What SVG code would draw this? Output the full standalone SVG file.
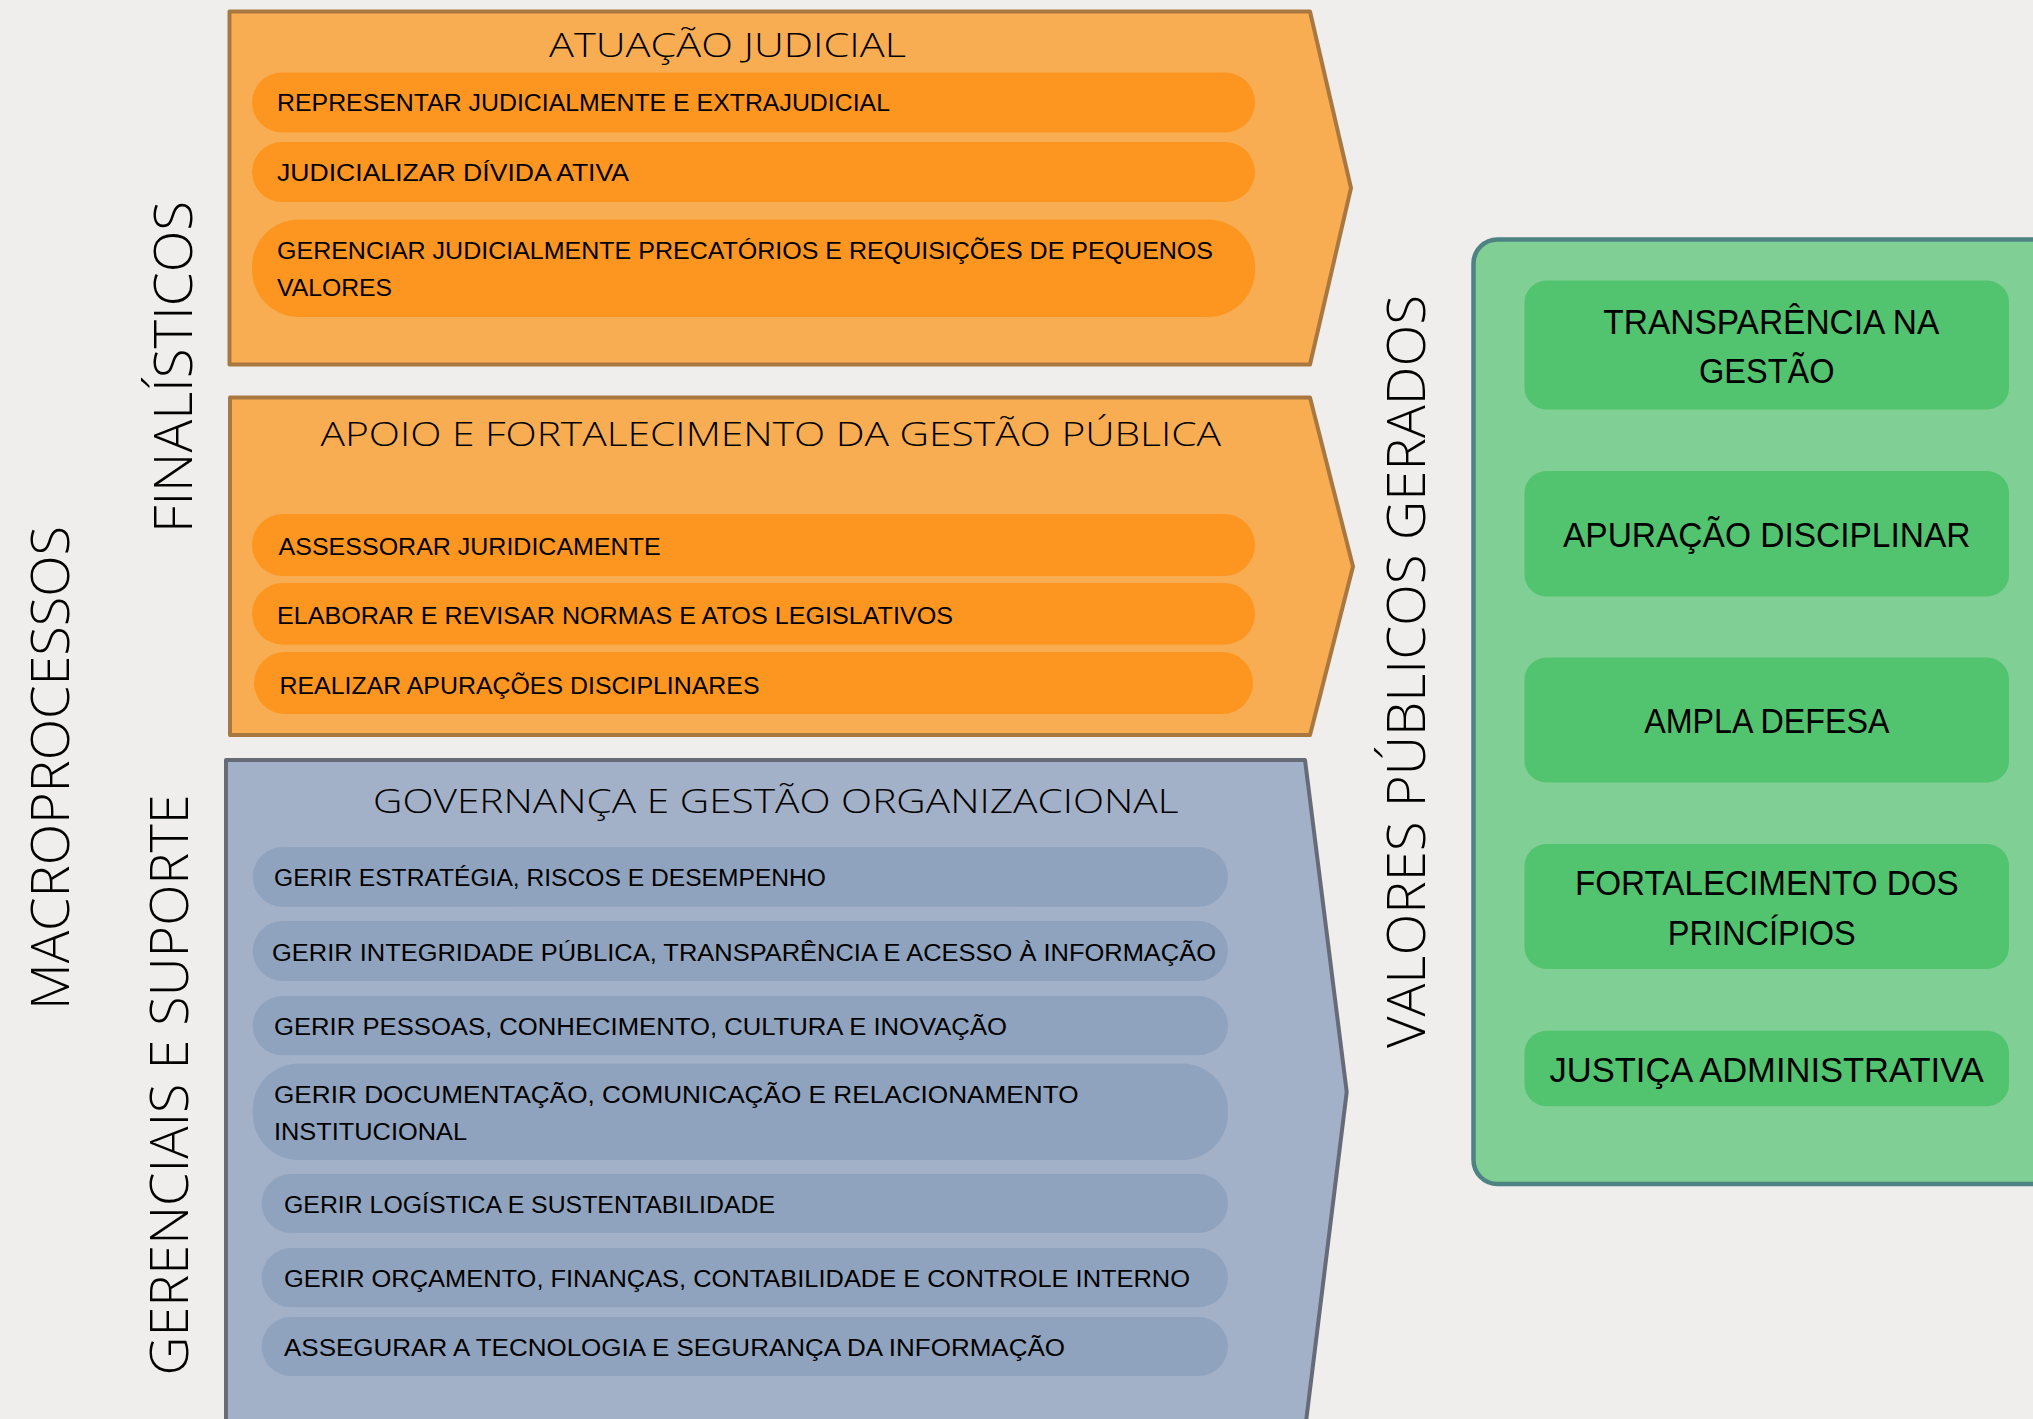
<svg xmlns="http://www.w3.org/2000/svg" width="2033" height="1419" viewBox="0 0 2033 1419">
<style>
.bg{fill:#efeeec}
.obox{fill:#f8ad52;stroke:#a97840;stroke-width:4;stroke-linejoin:round}
.opill{fill:#fc9620}
.bbox{fill:#a3b1c8;stroke:#666c77;stroke-width:4;stroke-linejoin:round}
.bpill{fill:#8fa3bf}
.gbox{fill:#80cf94;stroke:#4e8283;stroke-width:4.5}
.gpill{fill:#52c36f}
text{font-family:"Liberation Sans",Arial,sans-serif;fill:#000}
.vt{font-family:"Open Sans","Liberation Sans",sans-serif;font-weight:350;font-size:53px}
.title{font-family:"Open Sans","Liberation Sans",sans-serif;font-weight:300;font-size:33.5px}
.pt{font-size:23.5px}
.gt{font-size:35px}
</style>
<rect class="bg" x="0" y="0" width="2033" height="1419"/>

<g id="label-macroprocessos">
<text class="vt" transform="translate(68.5,1010) rotate(-90)" x="0" y="0" textLength="484" lengthAdjust="spacingAndGlyphs">MACROPROCESSOS</text>
</g>
<g id="label-finalisticos">
<text class="vt" transform="translate(192,533) rotate(-90)" x="0" y="0" textLength="332" lengthAdjust="spacingAndGlyphs">FINALÍSTICOS</text>
</g>
<g id="label-gerenciais">
<text class="vt" transform="translate(187.5,1375.5) rotate(-90)" x="0" y="0" textLength="581" lengthAdjust="spacingAndGlyphs">GERENCIAIS E SUPORTE</text>
</g>
<g id="label-valores">
<text class="vt" transform="translate(1425,1048) rotate(-90)" x="0" y="0" textLength="753" lengthAdjust="spacingAndGlyphs">VALORES PÚBLICOS GERADOS</text>
</g>

<g id="box-atuacao-judicial">
<polygon class="obox" points="229.5,11.5 1310,11.5 1351,188 1310,364.5 229.5,364.5"/>
<text class="title" x="549" y="57.3" textLength="357" lengthAdjust="spacingAndGlyphs">ATUAÇÃO JUDICIAL</text>
<g id="p-representar">
<rect class="opill" x="252" y="72.5" width="1003" height="60" rx="30"/>
<text class="pt" x="277" y="111" textLength="613" lengthAdjust="spacingAndGlyphs">REPRESENTAR JUDICIALMENTE E EXTRAJUDICIAL</text>
</g>
<g id="p-judicializar">
<rect class="opill" x="252" y="142" width="1003" height="60" rx="30"/>
<text class="pt" x="277" y="180.5" textLength="352" lengthAdjust="spacingAndGlyphs">JUDICIALIZAR DÍVIDA ATIVA</text>
</g>
<g id="p-precatorios">
<rect class="opill" x="252" y="219.5" width="1003" height="97.5" rx="47"/>
<text class="pt" x="277" y="258.5" textLength="936" lengthAdjust="spacingAndGlyphs">GERENCIAR JUDICIALMENTE PRECATÓRIOS E REQUISIÇÕES DE PEQUENOS</text>
<text class="pt" x="277" y="295.5" textLength="115" lengthAdjust="spacingAndGlyphs">VALORES</text>
</g>
</g>

<g id="box-apoio">
<polygon class="obox" points="230,397.5 1310,397.5 1353,566.5 1310,735 230,735"/>
<text class="title" x="320.5" y="446" textLength="900.5" lengthAdjust="spacingAndGlyphs">APOIO E FORTALECIMENTO DA GESTÃO PÚBLICA</text>
<g id="p-assessorar">
<rect class="opill" x="252" y="514" width="1003" height="62" rx="31"/>
<text class="pt" x="278.6" y="555" textLength="382" lengthAdjust="spacingAndGlyphs">ASSESSORAR JURIDICAMENTE</text>
</g>
<g id="p-elaborar">
<rect class="opill" x="252" y="583" width="1003" height="61.7" rx="31"/>
<text class="pt" x="277" y="623.5" textLength="676" lengthAdjust="spacingAndGlyphs">ELABORAR E REVISAR NORMAS E ATOS LEGISLATIVOS</text>
</g>
<g id="p-apuracoes">
<rect class="opill" x="254" y="652" width="999" height="62" rx="31"/>
<text class="pt" x="279.5" y="693.5" textLength="480" lengthAdjust="spacingAndGlyphs">REALIZAR APURAÇÕES DISCIPLINARES</text>
</g>
</g>

<g id="box-governanca">
<polygon class="bbox" points="226,760 1305,760 1346.7,1092 1305,1430 226,1430"/>
<text class="title" x="373" y="813" textLength="805.6" lengthAdjust="spacingAndGlyphs">GOVERNANÇA E GESTÃO ORGANIZACIONAL</text>
<g id="p-estrategia">
<rect class="bpill" x="252.7" y="847" width="975.3" height="59.7" rx="29.8"/>
<text class="pt" x="274" y="885.5" textLength="552" lengthAdjust="spacingAndGlyphs">GERIR ESTRATÉGIA, RISCOS E DESEMPENHO</text>
</g>
<g id="p-integridade">
<rect class="bpill" x="252.7" y="921" width="975.3" height="60" rx="30"/>
<text class="pt" x="272" y="960.5" textLength="944" lengthAdjust="spacingAndGlyphs">GERIR INTEGRIDADE PÚBLICA, TRANSPARÊNCIA E ACESSO À INFORMAÇÃO</text>
</g>
<g id="p-pessoas">
<rect class="bpill" x="252.7" y="996" width="975.3" height="59.3" rx="29.6"/>
<text class="pt" x="274" y="1034.6" textLength="733" lengthAdjust="spacingAndGlyphs">GERIR PESSOAS, CONHECIMENTO, CULTURA E INOVAÇÃO</text>
</g>
<g id="p-documentacao">
<rect class="bpill" x="252.7" y="1063.5" width="975.3" height="96.5" rx="46"/>
<text class="pt" x="274" y="1103" textLength="804.6" lengthAdjust="spacingAndGlyphs">GERIR DOCUMENTAÇÃO, COMUNICAÇÃO E RELACIONAMENTO</text>
<text class="pt" x="274" y="1139.7" textLength="193" lengthAdjust="spacingAndGlyphs">INSTITUCIONAL</text>
</g>
<g id="p-logistica">
<rect class="bpill" x="261.6" y="1174" width="966.4" height="59" rx="29.5"/>
<text class="pt" x="284" y="1213" textLength="491" lengthAdjust="spacingAndGlyphs">GERIR LOGÍSTICA E SUSTENTABILIDADE</text>
</g>
<g id="p-orcamento">
<rect class="bpill" x="261.6" y="1248" width="966.4" height="59.3" rx="29.6"/>
<text class="pt" x="284" y="1287" textLength="906" lengthAdjust="spacingAndGlyphs">GERIR ORÇAMENTO, FINANÇAS, CONTABILIDADE E CONTROLE INTERNO</text>
</g>
<g id="p-tecnologia">
<rect class="bpill" x="261.6" y="1317" width="966.4" height="59" rx="29.5"/>
<text class="pt" x="284" y="1355.8" textLength="781" lengthAdjust="spacingAndGlyphs">ASSEGURAR A TECNOLOGIA E SEGURANÇA DA INFORMAÇÃO</text>
</g>
</g>

<g id="box-valores">
<rect class="gbox" x="1473.5" y="239.5" width="620" height="944.5" rx="24"/>
<g id="v-transparencia">
<rect class="gpill" x="1524.5" y="280.5" width="484.5" height="129" rx="22"/>
<text class="gt" x="1603.3" y="334" textLength="336" lengthAdjust="spacingAndGlyphs">TRANSPARÊNCIA NA</text>
<text class="gt" x="1699" y="383" textLength="135.5" lengthAdjust="spacingAndGlyphs">GESTÃO</text>
</g>
<g id="v-apuracao">
<rect class="gpill" x="1524.5" y="471" width="484.5" height="125.5" rx="22"/>
<text class="gt" x="1563" y="546.5" textLength="407.5" lengthAdjust="spacingAndGlyphs">APURAÇÃO DISCIPLINAR</text>
</g>
<g id="v-ampla-defesa">
<rect class="gpill" x="1524.5" y="657.5" width="484.5" height="125" rx="22"/>
<text class="gt" x="1644.2" y="732.5" textLength="245.3" lengthAdjust="spacingAndGlyphs">AMPLA DEFESA</text>
</g>
<g id="v-fortalecimento">
<rect class="gpill" x="1524.5" y="844" width="484.5" height="125" rx="22"/>
<text class="gt" x="1575" y="895" textLength="383.7" lengthAdjust="spacingAndGlyphs">FORTALECIMENTO DOS</text>
<text class="gt" x="1667.8" y="944.5" textLength="188" lengthAdjust="spacingAndGlyphs">PRINCÍPIOS</text>
</g>
<g id="v-justica">
<rect class="gpill" x="1524.5" y="1030.8" width="484.5" height="75.4" rx="22"/>
<text class="gt" x="1549.5" y="1082" textLength="434.2" lengthAdjust="spacingAndGlyphs">JUSTIÇA ADMINISTRATIVA</text>
</g>
</g>

<g id="connectors"/>
</svg>
